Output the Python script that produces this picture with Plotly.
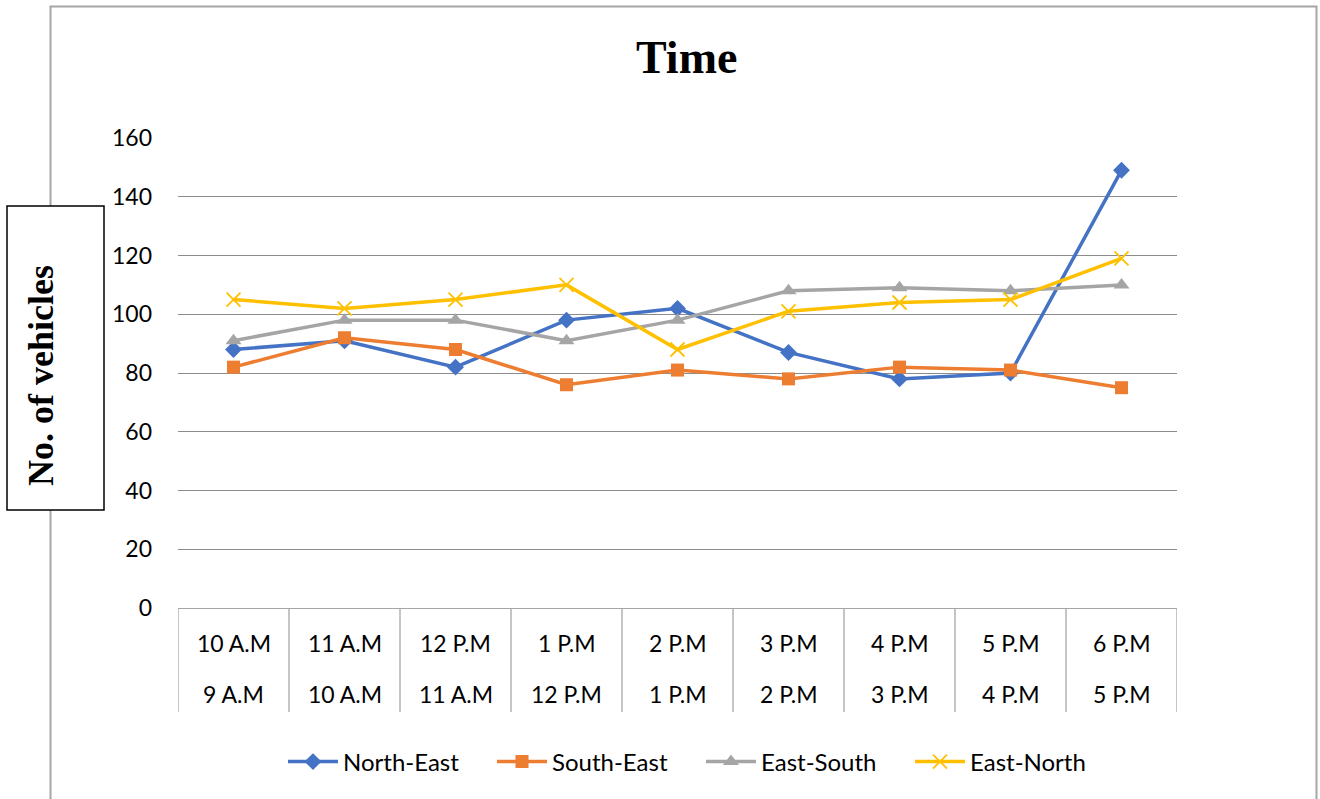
import plotly.graph_objects as go

# Hour ranges: upper row (end hour) and lower row (start hour)
end_hours = ["10 A.M", "11 A.M", "12 P.M", "1 P.M", "2 P.M", "3 P.M", "4 P.M", "5 P.M", "6 P.M"]
start_hours = ["9 A.M", "10 A.M", "11 A.M", "12 P.M", "1 P.M", "2 P.M", "3 P.M", "4 P.M", "5 P.M"]

north_east = [88, 91, 82, 98, 102, 87, 78, 80, 149]
south_east = [82, 92, 88, 76, 81, 78, 82, 81, 75]
east_south = [91, 98, 98, 91, 98, 108, 109, 108, 110]
east_north = [105, 102, 105, 110, 88, 101, 104, 105, 119]

y_ticks = [0, 20, 40, 60, 80, 100, 120, 140, 160]

W, H = 1320, 799
L, R, T, B = 178, 1177, 138, 608

def px(x):
    return (x - L) / (R - L)

def py(y):
    return (B - y) / (B - T)

idx = list(range(len(end_hours)))

series = [
    ("North-East", north_east, "#4472C4", "diamond", 13),
    ("South-East", south_east, "#ED7D31", "square", 13),
    ("East-South", east_south, "#A5A5A5", "triangle-up", 14),
    ("East-North", east_north, "#FFC000", "x-thin", 14),
]

fig = go.Figure()
for name, vals, color, sym, size in series:
    marker = dict(symbol=sym, size=size, color=color)
    if sym == "x-thin":
        marker["line"] = dict(color=color, width=1.8)
    fig.add_trace(go.Scatter(
        x=idx, y=vals, name=name, mode="lines+markers",
        line=dict(color=color, width=3.5), marker=marker,
    ))

shapes = []
# outer chart border
shapes.append(dict(type="rect", xref="paper", yref="paper",
                   x0=px(50.5), x1=px(1316.5), y0=py(6.5), y1=py(830),
                   line=dict(color="#A6A6A6", width=2), fillcolor="rgba(0,0,0,0)",
                   layer="above"))
# boxed y-axis title
shapes.append(dict(type="rect", xref="paper", yref="paper",
                   x0=px(7), x1=px(104), y0=py(510), y1=py(206),
                   line=dict(color="black", width=1.5), fillcolor="white",
                   layer="above"))
# category divider lines under the axis
for i in range(len(end_hours) + 1):
    shapes.append(dict(type="line", xref="x", yref="paper",
                       x0=i - 0.5, x1=i - 0.5, y0=py(608), y1=py(712),
                       line=dict(color="#A6A6A6", width=1.3), layer="above"))

annotations = []
for i, (top, bot) in enumerate(zip(end_hours, start_hours)):
    annotations.append(dict(x=i, y=py(643), xref="x", yref="paper", text=top,
                            showarrow=False, font=dict(family="Lato", size=23, color="black"),
                            xanchor="center", yanchor="middle"))
    annotations.append(dict(x=i, y=py(694), xref="x", yref="paper", text=bot,
                            showarrow=False, font=dict(family="Lato", size=23, color="black"),
                            xanchor="center", yanchor="middle"))

annotations.append(dict(x=px(686), y=py(58), xref="paper", yref="paper", text="<b>Time</b>",
                        showarrow=False, font=dict(family="Liberation Serif", size=46, color="black"),
                        xanchor="center", yanchor="middle"))
annotations.append(dict(x=px(41), y=py(376), xref="paper", yref="paper", text="<b>No. of vehicles</b>",
                        showarrow=False, textangle=-90,
                        font=dict(family="Liberation Serif", size=36, color="black"),
                        xanchor="center", yanchor="middle"))

fig.update_layout(
    width=W, height=H,
    margin=dict(l=L, r=W - R, t=T, b=H - B, pad=0),
    paper_bgcolor="white", plot_bgcolor="white",
    shapes=shapes, annotations=annotations,
    showlegend=True,
    legend=dict(orientation="h", x=px(701), y=py(762), xanchor="center", yanchor="middle",
                font=dict(family="Lato", size=24, color="black"),
                itemwidth=50, entrywidth=144, entrywidthmode="pixels",
                tracegroupgap=0, bgcolor="rgba(0,0,0,0)"),
    xaxis=dict(range=[-0.5, len(end_hours) - 0.5], showticklabels=False, showgrid=False,
               zeroline=False, showline=True, linecolor="#A6A6A6", linewidth=1.3,
               fixedrange=True),
    yaxis=dict(range=[0, 160], tickvals=y_ticks, showgrid=True, gridcolor="#8C8C8C",
               gridwidth=1, zeroline=False, showline=False, ticklabelstandoff=25,
               tickfont=dict(family="Lato", size=23, color="black"), fixedrange=True),
)

fig.write_html("out.html")
